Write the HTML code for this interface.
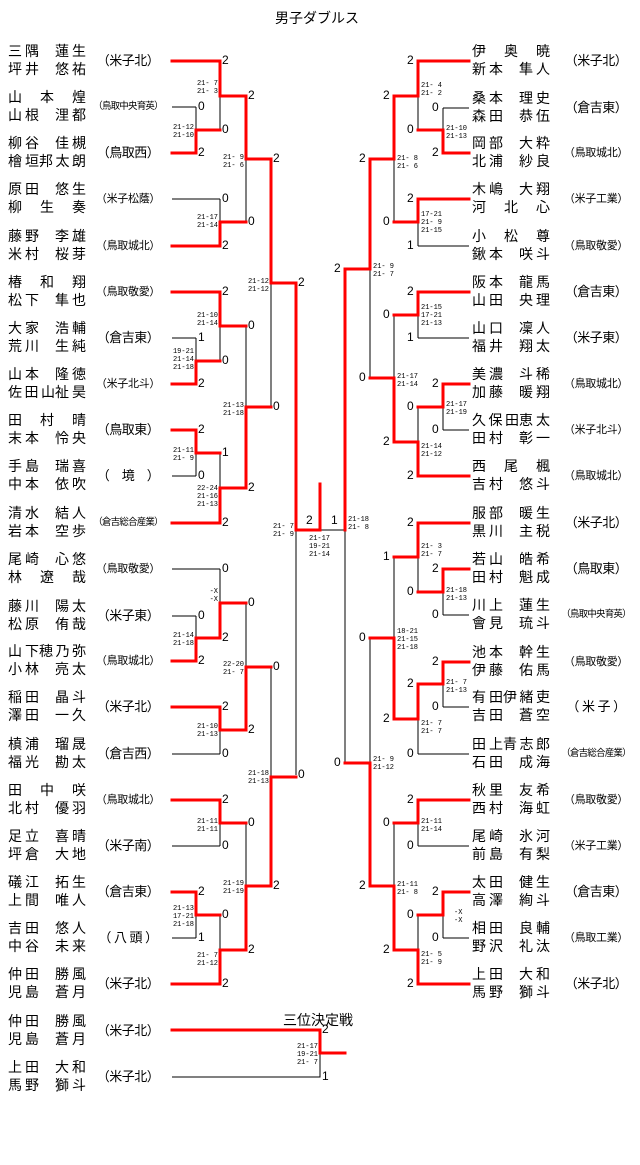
<!DOCTYPE html>
<html><head><meta charset="utf-8">
<style>
html,body{margin:0;padding:0;background:#fff;}
body{width:640px;height:1165px;position:relative;overflow:hidden;font-family:"Liberation Sans","Noto Sans CJK JP",sans-serif;color:#000;}
svg{position:absolute;left:0;top:0}
.p{position:absolute;width:78px;font:14px/18px "Liberation Sans","Noto Sans CJK JP",sans-serif}
.nm{display:flex;justify-content:space-between;height:18px}
.nm b{font-weight:normal;display:block;text-align:justify;text-align-last:justify;white-space:nowrap;overflow:visible}
.a1{width:14px}.a2{width:31px}.a3{width:47px}.w{width:46px}
.sc{position:absolute;width:76px;text-align:center;line-height:18px;white-space:nowrap;font-family:"Liberation Sans","Noto Sans CJK JP",sans-serif}
.s3{font-size:13px;letter-spacing:-0.5px}
.s4{font-size:11px;letter-spacing:-0.3px}
.s6{font-size:9.5px;letter-spacing:-0.8px}
.sl{position:absolute;font:7px/8px "Liberation Mono",monospace;white-space:pre}
.r{text-align:right}
.d{position:absolute;font:12px/14px "Liberation Sans",sans-serif}
.t{position:absolute;font:14px/18px "Liberation Sans","Noto Sans CJK JP",sans-serif}
</style></head><body>

<div class="t" style="left:275px;top:9px">男子ダブルス</div>
<div class="t" style="left:283px;top:1011px">三位決定戦</div>

<svg width="640" height="1165" viewBox="0 0 640 1165">
<g stroke="#000" stroke-width="1" fill="none">
<!-- left entries -->
<path d="M172,107H196M172,199H220M172,338H196M172,476H196M172,569H220M172,616H196M172,754H220M172,846H220M172,938H196"/>
<!-- left verticals -->
<path d="M196,107V153M220,61V130M246,96V222M220,199V246M271,159V407M220,292V361M196,338V384M246,326V488M196,430V476M220,453V523M296,283V775M220,569V638M196,616V661M246,603V730M220,707V754M271,667V886M220,800V846M196,892V938M246,823V950M220,915V984"/>
<path d="M320,530H345M345,269V763"/>
<!-- right entries -->
<path d="M443,108H469M418,246H469M418,338H469M443,430H469M443,615H469M443,707H469M418,754H469M418,846H469M443,938H469"/>
<!-- right verticals -->
<path d="M418,61V130M443,108V153M394,96V222M418,199V246M370,159V378M418,292V338M394,315V442M443,384V430M418,407V476M418,523V592M443,569V615M394,557V719M443,662V707M418,684V754M370,638V886M418,800V846M394,823V950M443,892V938M418,915V984"/>
<!-- third place -->
<path d="M172,1077H320V1053"/>
<!-- final box lines -->
<path d="M296,530V560M345,530V560"/>
</g>
<g stroke="#f00" stroke-width="3" fill="none" stroke-linejoin="miter" stroke-linecap="square">
<path d="M172,61H220V96H246V159H271V283H296V530H320V484"/>
<path d="M172,153H196V130H220"/>
<path d="M172,246H220V222H246"/>
<path d="M172,292H220V326H246"/>
<path d="M172,384H196V361H220"/>
<path d="M172,430H196V453H220"/>
<path d="M172,523H220V488H246V407H271"/>
<path d="M172,661H196V638H220V603H246"/>
<path d="M172,707H220V730H246V667H271"/>
<path d="M172,800H220V823H246"/>
<path d="M172,892H196V915H220"/>
<path d="M172,984H220V950H246V886H271V777H296"/>

<path d="M469,61H418V96H394V159H370V269H345V530"/>
<path d="M469,153H443V130H418"/>
<path d="M469,199H418V222H394"/>
<path d="M469,292H418V315H394"/>
<path d="M469,476H418V442H394V378H370"/>
<path d="M469,384H443V407H418"/>
<path d="M469,523H418V557H394"/>
<path d="M469,569H443V592H418"/>
<path d="M469,662H443V684H418V719H394V638H370"/>
<path d="M469,800H418V823H394"/>
<path d="M469,892H443V915H418"/>
<path d="M469,984H418V950H394V886H370V763H345"/>

<path d="M172,1030H320V1053H345"/>
</g>
</svg>

<!-- LEFT NAMES -->
<div class="p" style="left:8px;top:42px"><div class="nm"><b class="a2">三隅</b><b class="a2">蓮生</b></div><div class="nm"><b class="a2">坪井</b><b class="a2">悠祐</b></div></div>
<div class="sc s3" style="left:90px;top:52px">（米子北）</div>
<div class="p" style="left:8px;top:88px"><div class="nm"><b class="w">山本</b><b class="a1">煌</b></div><div class="nm"><b class="a2">山根</b><b class="a2">浬都</b></div></div>
<div class="sc s6" style="left:90px;top:98px">（鳥取中央育英）</div>
<div class="p" style="left:8px;top:134px"><div class="nm"><b class="a2">柳谷</b><b class="a2">佳槻</b></div><div class="nm"><b class="a2">檜垣</b><b class="a3">邦太朗</b></div></div>
<div class="sc s3" style="left:90px;top:144px">（鳥取西）</div>
<div class="p" style="left:8px;top:180px"><div class="nm"><b class="a2">原田</b><b class="a2">悠生</b></div><div class="nm"><b class="w">柳生</b><b class="a1">奏</b></div></div>
<div class="sc s4" style="left:90px;top:190px">（米子松蔭）</div>
<div class="p" style="left:8px;top:227px"><div class="nm"><b class="a2">藤野</b><b class="a2">李雄</b></div><div class="nm"><b class="a2">米村</b><b class="a2">桜芽</b></div></div>
<div class="sc s4" style="left:90px;top:237px">（鳥取城北）</div>
<div class="p" style="left:8px;top:273px"><div class="nm"><b class="a1">椿</b><b class="w">和翔</b></div><div class="nm"><b class="a2">松下</b><b class="a2">隼也</b></div></div>
<div class="sc s4" style="left:90px;top:283px">（鳥取敬愛）</div>
<div class="p" style="left:8px;top:319px"><div class="nm"><b class="a2">大家</b><b class="a2">浩輔</b></div><div class="nm"><b class="a2">荒川</b><b class="a2">生純</b></div></div>
<div class="sc s3" style="left:90px;top:329px">（倉吉東）</div>
<div class="p" style="left:8px;top:365px"><div class="nm"><b class="a2">山本</b><b class="a2">隆徳</b></div><div class="nm"><b class="a3">佐田山</b><b class="a2">祉昊</b></div></div>
<div class="sc s4" style="left:90px;top:375px">（米子北斗）</div>
<div class="p" style="left:8px;top:411px"><div class="nm"><b class="w">田村</b><b class="a1">晴</b></div><div class="nm"><b class="a2">末本</b><b class="a2">怜央</b></div></div>
<div class="sc s3" style="left:90px;top:421px">（鳥取東）</div>
<div class="p" style="left:8px;top:457px"><div class="nm"><b class="a2">手島</b><b class="a2">瑞喜</b></div><div class="nm"><b class="a2">中本</b><b class="a2">依吹</b></div></div>
<div class="sc s3" style="left:90px;top:467px">（　境　）</div>
<div class="p" style="left:8px;top:504px"><div class="nm"><b class="a2">清水</b><b class="a2">結人</b></div><div class="nm"><b class="a2">岩本</b><b class="a2">空歩</b></div></div>
<div class="sc s6" style="left:90px;top:514px">（倉吉総合産業）</div>
<div class="p" style="left:8px;top:550px"><div class="nm"><b class="a2">尾崎</b><b class="a2">心悠</b></div><div class="nm"><b class="a1">林</b><b class="w">遼哉</b></div></div>
<div class="sc s4" style="left:90px;top:560px">（鳥取敬愛）</div>
<div class="p" style="left:8px;top:597px"><div class="nm"><b class="a2">藤川</b><b class="a2">陽太</b></div><div class="nm"><b class="a2">松原</b><b class="a2">侑哉</b></div></div>
<div class="sc s3" style="left:90px;top:607px">（米子東）</div>
<div class="p" style="left:8px;top:642px"><div class="nm"><b class="a2">山下</b><b class="a3">穂乃弥</b></div><div class="nm"><b class="a2">小林</b><b class="a2">亮太</b></div></div>
<div class="sc s4" style="left:90px;top:652px">（鳥取城北）</div>
<div class="p" style="left:8px;top:688px"><div class="nm"><b class="a2">稲田</b><b class="a2">晶斗</b></div><div class="nm"><b class="a2">澤田</b><b class="a2">一久</b></div></div>
<div class="sc s3" style="left:90px;top:698px">（米子北）</div>
<div class="p" style="left:8px;top:735px"><div class="nm"><b class="a2">槙浦</b><b class="a2">瑠晟</b></div><div class="nm"><b class="a2">福光</b><b class="a2">勘太</b></div></div>
<div class="sc s3" style="left:90px;top:745px">（倉吉西）</div>
<div class="p" style="left:8px;top:781px"><div class="nm"><b class="w">田中</b><b class="a1">咲</b></div><div class="nm"><b class="a2">北村</b><b class="a2">優羽</b></div></div>
<div class="sc s4" style="left:90px;top:791px">（鳥取城北）</div>
<div class="p" style="left:8px;top:827px"><div class="nm"><b class="a2">足立</b><b class="a2">喜晴</b></div><div class="nm"><b class="a2">坪倉</b><b class="a2">大地</b></div></div>
<div class="sc s3" style="left:90px;top:837px">（米子南）</div>
<div class="p" style="left:8px;top:873px"><div class="nm"><b class="a2">礒江</b><b class="a2">拓生</b></div><div class="nm"><b class="a2">上間</b><b class="a2">唯人</b></div></div>
<div class="sc s3" style="left:90px;top:883px">（倉吉東）</div>
<div class="p" style="left:8px;top:919px"><div class="nm"><b class="a2">吉田</b><b class="a2">悠人</b></div><div class="nm"><b class="a2">中谷</b><b class="a2">未来</b></div></div>
<div class="sc s3" style="left:90px;top:929px">（ 八 頭 ）</div>
<div class="p" style="left:8px;top:965px"><div class="nm"><b class="a2">仲田</b><b class="a2">勝風</b></div><div class="nm"><b class="a2">児島</b><b class="a2">蒼月</b></div></div>
<div class="sc s3" style="left:90px;top:975px">（米子北）</div>
<div class="p" style="left:8px;top:1012px"><div class="nm"><b class="a2">仲田</b><b class="a2">勝風</b></div><div class="nm"><b class="a2">児島</b><b class="a2">蒼月</b></div></div>
<div class="sc s3" style="left:90px;top:1022px">（米子北）</div>
<div class="p" style="left:8px;top:1058px"><div class="nm"><b class="a2">上田</b><b class="a2">大和</b></div><div class="nm"><b class="a2">馬野</b><b class="a2">獅斗</b></div></div>
<div class="sc s3" style="left:90px;top:1068px">（米子北）</div>

<!-- RIGHT NAMES -->
<div class="p" style="left:472px;top:42px"><div class="nm"><b class="w">伊奥</b><b class="a1">暁</b></div><div class="nm"><b class="a2">新本</b><b class="a2">隼人</b></div></div>
<div class="sc s3" style="left:558px;top:52px">（米子北）</div>
<div class="p" style="left:472px;top:89px"><div class="nm"><b class="a2">桑本</b><b class="a2">理史</b></div><div class="nm"><b class="a2">森田</b><b class="a2">恭伍</b></div></div>
<div class="sc s3" style="left:558px;top:99px">（倉吉東）</div>
<div class="p" style="left:472px;top:134px"><div class="nm"><b class="a2">岡部</b><b class="a2">大粋</b></div><div class="nm"><b class="a2">北浦</b><b class="a2">紗良</b></div></div>
<div class="sc s4" style="left:558px;top:144px">（鳥取城北）</div>
<div class="p" style="left:472px;top:180px"><div class="nm"><b class="a2">木嶋</b><b class="a2">大翔</b></div><div class="nm"><b class="w">河北</b><b class="a1">心</b></div></div>
<div class="sc s4" style="left:558px;top:190px">（米子工業）</div>
<div class="p" style="left:472px;top:227px"><div class="nm"><b class="w">小松</b><b class="a1">尊</b></div><div class="nm"><b class="a2">鍬本</b><b class="a2">咲斗</b></div></div>
<div class="sc s4" style="left:558px;top:237px">（鳥取敬愛）</div>
<div class="p" style="left:472px;top:273px"><div class="nm"><b class="a2">阪本</b><b class="a2">龍馬</b></div><div class="nm"><b class="a2">山田</b><b class="a2">央理</b></div></div>
<div class="sc s3" style="left:558px;top:283px">（倉吉東）</div>
<div class="p" style="left:472px;top:319px"><div class="nm"><b class="a2">山口</b><b class="a2">凜人</b></div><div class="nm"><b class="a2">福井</b><b class="a2">翔太</b></div></div>
<div class="sc s3" style="left:558px;top:329px">（米子東）</div>
<div class="p" style="left:472px;top:365px"><div class="nm"><b class="a2">美濃</b><b class="a2">斗稀</b></div><div class="nm"><b class="a2">加藤</b><b class="a2">暖翔</b></div></div>
<div class="sc s4" style="left:558px;top:375px">（鳥取城北）</div>
<div class="p" style="left:472px;top:411px"><div class="nm"><b class="a3">久保田</b><b class="a2">恵太</b></div><div class="nm"><b class="a2">田村</b><b class="a2">彰一</b></div></div>
<div class="sc s4" style="left:558px;top:421px">（米子北斗）</div>
<div class="p" style="left:472px;top:457px"><div class="nm"><b class="w">西尾</b><b class="a1">楓</b></div><div class="nm"><b class="a2">吉村</b><b class="a2">悠斗</b></div></div>
<div class="sc s4" style="left:558px;top:467px">（鳥取城北）</div>
<div class="p" style="left:472px;top:504px"><div class="nm"><b class="a2">服部</b><b class="a2">暖生</b></div><div class="nm"><b class="a2">黒川</b><b class="a2">主税</b></div></div>
<div class="sc s3" style="left:558px;top:514px">（米子北）</div>
<div class="p" style="left:472px;top:550px"><div class="nm"><b class="a2">若山</b><b class="a2">皓希</b></div><div class="nm"><b class="a2">田村</b><b class="a2">魁成</b></div></div>
<div class="sc s3" style="left:558px;top:560px">（鳥取東）</div>
<div class="p" style="left:472px;top:596px"><div class="nm"><b class="a2">川上</b><b class="a2">蓮生</b></div><div class="nm"><b class="a2">會見</b><b class="a2">琉斗</b></div></div>
<div class="sc s6" style="left:558px;top:606px">（鳥取中央育英）</div>
<div class="p" style="left:472px;top:643px"><div class="nm"><b class="a2">池本</b><b class="a2">幹生</b></div><div class="nm"><b class="a2">伊藤</b><b class="a2">佑馬</b></div></div>
<div class="sc s4" style="left:558px;top:653px">（鳥取敬愛）</div>
<div class="p" style="left:472px;top:688px"><div class="nm"><b class="a2">有田</b><b class="a3">伊緒吏</b></div><div class="nm"><b class="a2">吉田</b><b class="a2">蒼空</b></div></div>
<div class="sc s3" style="left:558px;top:698px">（ 米 子 ）</div>
<div class="p" style="left:472px;top:735px"><div class="nm"><b class="a2">田上</b><b class="a3">青志郎</b></div><div class="nm"><b class="a2">石田</b><b class="a2">成海</b></div></div>
<div class="sc s6" style="left:558px;top:745px">（倉吉総合産業）</div>
<div class="p" style="left:472px;top:781px"><div class="nm"><b class="a2">秋里</b><b class="a2">友希</b></div><div class="nm"><b class="a2">西村</b><b class="a2">海虹</b></div></div>
<div class="sc s4" style="left:558px;top:791px">（鳥取敬愛）</div>
<div class="p" style="left:472px;top:827px"><div class="nm"><b class="a2">尾崎</b><b class="a2">氷河</b></div><div class="nm"><b class="a2">前島</b><b class="a2">有梨</b></div></div>
<div class="sc s4" style="left:558px;top:837px">（米子工業）</div>
<div class="p" style="left:472px;top:873px"><div class="nm"><b class="a2">太田</b><b class="a2">健生</b></div><div class="nm"><b class="a2">高澤</b><b class="a2">絢斗</b></div></div>
<div class="sc s3" style="left:558px;top:883px">（倉吉東）</div>
<div class="p" style="left:472px;top:919px"><div class="nm"><b class="a2">相田</b><b class="a2">良輔</b></div><div class="nm"><b class="a2">野沢</b><b class="a2">礼汰</b></div></div>
<div class="sc s4" style="left:558px;top:929px">（鳥取工業）</div>
<div class="p" style="left:472px;top:965px"><div class="nm"><b class="a2">上田</b><b class="a2">大和</b></div><div class="nm"><b class="a2">馬野</b><b class="a2">獅斗</b></div></div>
<div class="sc s3" style="left:558px;top:975px">（米子北）</div>

<!-- LEFT score labels (right edge) -->
<div class="sl r" style="right:422px;top:80px">21- 7
21- 3</div>
<div class="sl r" style="right:446px;top:124px">21-12
21-10</div>
<div class="sl r" style="right:396px;top:154px">21- 9
21- 6</div>
<div class="sl r" style="right:422px;top:214px">21-17
21-14</div>
<div class="sl r" style="right:371px;top:278px">21-12
21-12</div>
<div class="sl r" style="right:422px;top:312px">21-10
21-14</div>
<div class="sl r" style="right:446px;top:348px">19-21
21-14
21-18</div>
<div class="sl r" style="right:396px;top:402px">21-13
21-18</div>
<div class="sl r" style="right:446px;top:447px">21-11
21- 9</div>
<div class="sl r" style="right:422px;top:485px">22-24
21-16
21-13</div>
<div class="sl r" style="right:346px;top:523px">21- 7
21- 9</div>
<div class="sl" style="left:309px;top:535px">21-17
19-21
21-14</div>
<div class="sl r" style="right:422px;top:588px">-X
-X</div>
<div class="sl r" style="right:446px;top:632px">21-14
21-18</div>
<div class="sl r" style="right:396px;top:661px">22-20
21- 7</div>
<div class="sl r" style="right:422px;top:723px">21-10
21-13</div>
<div class="sl r" style="right:371px;top:770px">21-18
21-13</div>
<div class="sl r" style="right:422px;top:818px">21-11
21-11</div>
<div class="sl r" style="right:396px;top:880px">21-19
21-19</div>
<div class="sl r" style="right:446px;top:905px">21-13
17-21
21-18</div>
<div class="sl r" style="right:422px;top:952px">21- 7
21-12</div>
<div class="sl r" style="right:322px;top:1043px">21-17
19-21
21- 7</div>

<!-- RIGHT score labels (left edge) -->
<div class="sl" style="left:421px;top:82px">21- 4
21- 2</div>
<div class="sl" style="left:446px;top:125px">21-10
21-13</div>
<div class="sl" style="left:397px;top:155px">21- 8
21- 6</div>
<div class="sl" style="left:421px;top:211px">17-21
21- 9
21-15</div>
<div class="sl" style="left:373px;top:263px">21- 9
21- 7</div>
<div class="sl" style="left:421px;top:304px">21-15
17-21
21-13</div>
<div class="sl" style="left:397px;top:373px">21-17
21-14</div>
<div class="sl" style="left:446px;top:401px">21-17
21-19</div>
<div class="sl" style="left:421px;top:443px">21-14
21-12</div>
<div class="sl" style="left:348px;top:516px">21-18
21- 8</div>
<div class="sl" style="left:421px;top:543px">21- 3
21- 7</div>
<div class="sl" style="left:446px;top:587px">21-18
21-13</div>
<div class="sl" style="left:397px;top:628px">18-21
21-15
21-18</div>
<div class="sl" style="left:446px;top:679px">21- 7
21-13</div>
<div class="sl" style="left:421px;top:720px">21- 7
21- 7</div>
<div class="sl" style="left:373px;top:756px">21- 9
21-12</div>
<div class="sl" style="left:421px;top:818px">21-11
21-14</div>
<div class="sl" style="left:397px;top:881px">21-11
21- 8</div>
<div class="sl" style="left:454px;top:909px">-X
-X</div>
<div class="sl" style="left:421px;top:951px">21- 5
21- 9</div>

<!-- LEFT digits -->
<div class="d" style="left:222px;top:53px">2</div>
<div class="d" style="left:222px;top:122px">0</div>
<div class="d" style="left:198px;top:99px">0</div>
<div class="d" style="left:198px;top:145px">2</div>
<div class="d" style="left:248px;top:88px">2</div>
<div class="d" style="left:248px;top:214px">0</div>
<div class="d" style="left:222px;top:191px">0</div>
<div class="d" style="left:222px;top:238px">2</div>
<div class="d" style="left:273px;top:151px">2</div>
<div class="d" style="left:273px;top:399px">0</div>
<div class="d" style="left:298px;top:275px">2</div>
<div class="d" style="left:222px;top:284px">2</div>
<div class="d" style="left:222px;top:353px">0</div>
<div class="d" style="left:198px;top:330px">1</div>
<div class="d" style="left:198px;top:376px">2</div>
<div class="d" style="left:248px;top:318px">0</div>
<div class="d" style="left:248px;top:480px">2</div>
<div class="d" style="left:198px;top:422px">2</div>
<div class="d" style="left:198px;top:468px">0</div>
<div class="d" style="left:222px;top:445px">1</div>
<div class="d" style="left:222px;top:515px">2</div>
<div class="d" style="left:306px;top:513px">2</div>
<div class="d" style="left:331px;top:513px">1</div>
<div class="d" style="left:222px;top:561px">0</div>
<div class="d" style="left:222px;top:630px">2</div>
<div class="d" style="left:198px;top:608px">0</div>
<div class="d" style="left:198px;top:653px">2</div>
<div class="d" style="left:248px;top:595px">0</div>
<div class="d" style="left:248px;top:722px">2</div>
<div class="d" style="left:222px;top:699px">2</div>
<div class="d" style="left:222px;top:746px">0</div>
<div class="d" style="left:273px;top:659px">0</div>
<div class="d" style="left:273px;top:878px">2</div>
<div class="d" style="left:298px;top:767px">0</div>
<div class="d" style="left:222px;top:792px">2</div>
<div class="d" style="left:222px;top:838px">0</div>
<div class="d" style="left:198px;top:884px">2</div>
<div class="d" style="left:198px;top:930px">1</div>
<div class="d" style="left:248px;top:815px">0</div>
<div class="d" style="left:248px;top:942px">2</div>
<div class="d" style="left:222px;top:907px">0</div>
<div class="d" style="left:222px;top:976px">2</div>
<div class="d" style="left:322px;top:1022px">2</div>
<div class="d" style="left:322px;top:1069px">1</div>

<!-- RIGHT digits -->
<div class="d" style="left:407px;top:53px">2</div>
<div class="d" style="left:407px;top:122px">0</div>
<div class="d" style="left:432px;top:100px">0</div>
<div class="d" style="left:432px;top:145px">2</div>
<div class="d" style="left:383px;top:88px">2</div>
<div class="d" style="left:383px;top:214px">0</div>
<div class="d" style="left:407px;top:191px">2</div>
<div class="d" style="left:407px;top:238px">1</div>
<div class="d" style="left:359px;top:151px">2</div>
<div class="d" style="left:359px;top:370px">0</div>
<div class="d" style="left:334px;top:261px">2</div>
<div class="d" style="left:407px;top:284px">2</div>
<div class="d" style="left:407px;top:330px">1</div>
<div class="d" style="left:383px;top:307px">0</div>
<div class="d" style="left:383px;top:434px">2</div>
<div class="d" style="left:432px;top:376px">2</div>
<div class="d" style="left:432px;top:422px">0</div>
<div class="d" style="left:407px;top:399px">0</div>
<div class="d" style="left:407px;top:468px">2</div>
<div class="d" style="left:334px;top:755px">0</div>
<div class="d" style="left:407px;top:515px">2</div>
<div class="d" style="left:407px;top:584px">0</div>
<div class="d" style="left:432px;top:561px">2</div>
<div class="d" style="left:432px;top:607px">0</div>
<div class="d" style="left:383px;top:549px">1</div>
<div class="d" style="left:383px;top:711px">2</div>
<div class="d" style="left:359px;top:630px">0</div>
<div class="d" style="left:359px;top:878px">2</div>
<div class="d" style="left:432px;top:654px">2</div>
<div class="d" style="left:432px;top:699px">0</div>
<div class="d" style="left:407px;top:676px">2</div>
<div class="d" style="left:407px;top:746px">0</div>
<div class="d" style="left:407px;top:792px">2</div>
<div class="d" style="left:407px;top:838px">0</div>
<div class="d" style="left:383px;top:815px">0</div>
<div class="d" style="left:383px;top:942px">2</div>
<div class="d" style="left:432px;top:884px">2</div>
<div class="d" style="left:432px;top:930px">0</div>
<div class="d" style="left:407px;top:907px">0</div>
<div class="d" style="left:407px;top:976px">2</div>

</body></html>
